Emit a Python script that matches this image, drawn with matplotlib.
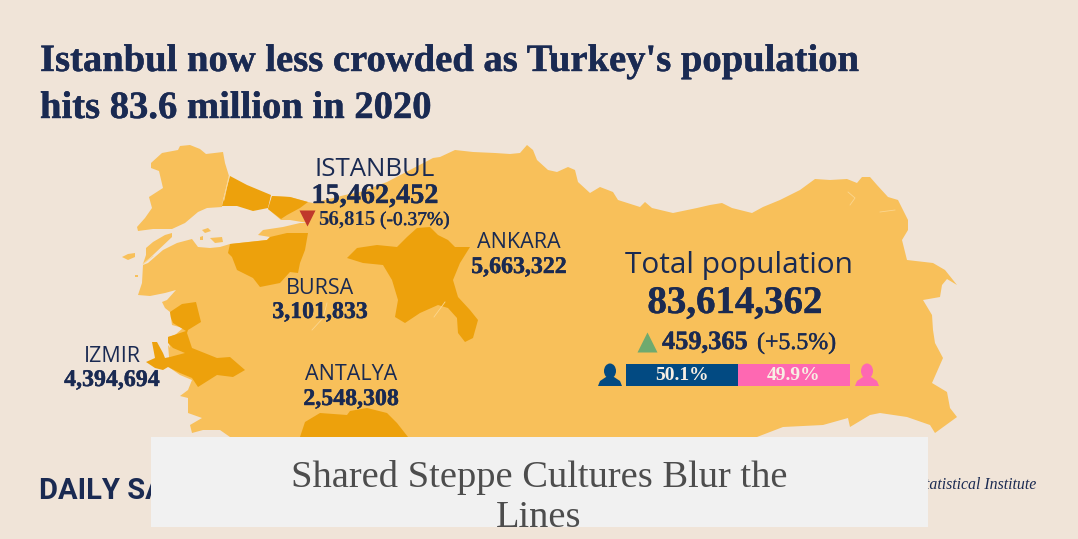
import matplotlib
matplotlib.use("Agg")
import matplotlib.pyplot as plt
import matplotlib.patheffects as pe
from matplotlib.patches import Polygon, Ellipse, Rectangle

# colours
bg = "#f0e4d8"
land = "#f8c05a"
hot = "#eda10c"
navy = "#1a2a52"
serif = "Liberation Serif"
sans = "Open Sans"

# outlines (pixels)
anatolia = [(143,265),(148,263),(163,250),(177,243),(192,239),(198,247),(210,248),(220,247),(230,244),
    (267,240),(270,237),(258,235),(263,230),(283,227),(300,223),(308,223),(290,220),(281,220),(268,209),
    (272,196),(290,197),(308,202),(313,203),(345,195),(360,192),(387,182),(410,170),(433,158),(440,157),
    (455,150),(473,152),(495,153),(510,154),(520,153),(527,145),(533,150),(537,160),(548,170),(557,172),
    (568,167),(575,170),(578,182),(590,193),(600,187),(613,192),(618,200),(640,207),(645,202),(652,208),
    (673,213),(697,208),(710,205),(722,203),(732,208),(752,213),(763,207),(780,200),(800,190),(815,179),
    (830,180),(847,179),(857,183),(862,177),(870,177),(877,185),(888,197),(898,200),(908,220),(908,230),
    (902,240),(907,260),(933,263),(945,270),(957,285),(947,279),(942,285),(940,297),(923,300),(932,315),
    (933,330),(935,343),(943,358),(932,383),(947,392),(950,408),(957,417),(935,433),(930,425),(907,417),
    (880,413),(870,415),(850,427),(848,418),(823,425),(783,427),(757,437),(750,445),(232,445),(230,437),
    (220,430),(203,430),(192,433),(190,425),(202,418),(188,413),(188,398),(180,396),(188,390),(192,380),
    (180,375),(170,368),(168,345),(170,348),(168,337),(175,335),(183,328),(172,325),(170,312),(165,308),
    (162,302),(167,300),(176,290),(165,293),(150,296),(138,295),(142,283)]
thrace = [(151,163),(162,153),(178,150),(180,146),(190,145),(200,149),(206,154),(223,152),(225,163),
    (229,176),(223,200),(222,207),(207,208),(198,212),(185,223),(172,229),(153,229),(138,231),(137,227),
    (145,218),(152,208),(149,197),(163,188),(159,171),(151,168)]
gallipoli = [(172,233),(165,235),(153,242),(146,248),(146,255),(143,264),(153,255),(172,237)]
islands = [[(122,257),(128,254),(135,253),(135,257),(128,260)],
    [(202,230),(208,228),(211,231),(205,233)],
    [(210,238),(222,237),(223,242),(215,243)],
    [(200,237),(203,236),(203,240),(200,240)],
    [(135,275),(138,275),(138,277),(135,277)]]
istanbul_eu = [(230,176),(247,185),(271,195),(268,208),(253,211),(237,206),(222,206),(227,187)]
istanbul_as = [(272,196),(290,197),(308,202),(300,208),(287,215),(281,219),(268,209)]
bursa = [(230,244),(267,240),(270,237),(287,233),(308,233),(305,250),(300,263),(298,273),(290,272),
    (280,283),(260,287),(253,278),(237,270),(232,257),(228,253)]
ankara = [(347,258),(357,248),(377,245),(397,247),(407,237),(417,228),(430,227),(438,235),(448,240),
    (455,247),(470,247),(460,263),(453,280),(458,297),(470,310),(478,320),(473,338),(465,342),(458,333),
    (457,318),(448,308),(438,305),(420,313),(405,323),(395,317),(398,300),(392,280),(383,265),(363,263)]
izmir = [(170,312),(182,304),(196,302),(201,322),(188,330),(187,333),(192,348),(217,358),(230,357),
    (245,370),(233,377),(217,375),(198,387),(192,378),(180,373),(168,367),(163,370),(155,368),(146,362),
    (155,358),(152,342),(157,342),(163,353),(165,358),(170,357),(185,353),(173,348),(168,343),(168,337),
    (180,333),(186,331),(173,323),(171,318)]
antalya = [(300,445),(300,437),(305,422),(320,413),(347,415),(350,411),(367,408),(387,413),(397,423),(408,437),(408,445)]
borders = [[(312,330),(323,318),(327,303)],[(434,317),(445,302)],[(848,192),(855,198),(850,205)],
    [(880,212),(895,210)],[(143,264),(153,256)],[(229,176),(224,200)]]

# numbers on the chart
male_female = [50.1, 49.9]
bar_labels = ["50.1%", "49.9%"]
bar_colors = ["#024a82", "#fe68b2"]
cities = ["ISTANBUL", "ANKARA", "BURSA", "IZMIR", "ANTALYA"]
city_pop = ["15,462,452", "5,663,322", "3,101,833", "4,394,694", "2,548,308"]
city_x = [375, 519, 320, 112, 351]
name_y = [176, 248, 294, 362, 380]
pop_y = [203, 273, 318, 386, 405]

heavy = [pe.withStroke(linewidth=0.3, foreground=navy)]

fig = plt.figure(figsize=(10.78, 5.39), dpi=100, facecolor=bg)
ax = fig.add_axes([0, 0, 1, 1])
ax.set_xlim(0, 1078)
ax.set_ylim(539, 0)
ax.axis("off")

for shape in [anatolia, thrace, gallipoli] + islands:
    ax.add_patch(Polygon(shape, closed=True, fc=land, ec="none", zorder=1))
for shape in [istanbul_eu, istanbul_as, bursa, ankara, izmir, antalya]:
    ax.add_patch(Polygon(shape, closed=True, fc=hot, ec="none", zorder=2))
for b in borders:
    ax.plot(*zip(*b), color="#fbd68f", lw=0.6, zorder=2)

# title
ax.text(40, 71, "Istanbul now less crowded as Turkey's population", family=serif, weight="bold",
        fontsize=27.8, color=navy, va="baseline", path_effects=heavy)
ax.text(40, 118, "hits 83.6 million in 2020", family=serif, weight="bold",
        fontsize=27.8, color=navy, va="baseline", path_effects=heavy)

for name, pop, x, y1, y2 in zip(cities, city_pop, city_x, name_y, pop_y):
    ax.text(x, y1, name, family=sans, fontsize=15.5 if name != "ISTANBUL" else 18.5, color=navy,
            ha="center", va="baseline", zorder=4)
    ax.text(x, y2, pop, family=serif, weight="bold", fontsize=17.2 if name != "ISTANBUL" else 20.3,
            color=navy, ha="center", va="baseline", zorder=4, path_effects=heavy)

# istanbul change
ax.plot([307], [218], marker="v", ms=11, color="#c0392b", mec="none", zorder=4)
ax.text(318, 225, "56,815", family=serif, weight="bold", fontsize=15, color=navy, zorder=4)
ax.text(380, 225, "(-0.37%)", family=serif, fontsize=14, color=navy, zorder=4, path_effects=heavy)

# total block
ax.text(739, 273, "Total population", family=sans, fontsize=21.5, color=navy, ha="center", zorder=4)
ax.text(735, 313, "83,614,362", family=serif, weight="bold", fontsize=28, color=navy, ha="center",
        zorder=4, path_effects=heavy)
ax.plot([647], [342], marker="^", ms=14, color="#6faa6f", mec="none", zorder=4)
ax.text(662, 349, "459,365", family=serif, weight="bold", fontsize=19, color=navy, zorder=4, path_effects=heavy)
ax.text(757, 349, "(+5.5%)", family=serif, fontsize=17.2, color=navy, zorder=4, path_effects=heavy)

# person icons
for cx, col in zip([610, 867], bar_colors):
    ax.add_patch(Ellipse((cx, 371), 12, 15, fc=col, ec="none", zorder=4))
    ax.add_patch(Polygon([(cx-12,386),(cx-10,381),(cx-4,377),(cx+4,377),(cx+10,381),(cx+12,386)],
                         closed=True, fc=col, ec="none", zorder=4))

# male / female bar
bar_ax = fig.add_axes([625.7/1078, 1-385.7/539, 224.3/1078, 21.7/539])
bar_ax.set_xlim(0, 100)
bar_ax.set_ylim(-0.5, 0.5)
bar_ax.axis("off")
left = 0
for val, lab, col in zip(male_female, bar_labels, bar_colors):
    bar_ax.barh(0, val, left=left, height=1, color=col)
    bar_ax.text(left + val/2, -0.02, lab, family=serif, weight="bold", fontsize=14, color="#f7efe4",
                ha="center", va="center")
    left += val

# footer
ax.text(39, 499, "DAILY SABAH", family=["Liberation Sans Narrow", "Roboto"], weight="bold", fontsize=21,
        color=navy, va="baseline", zorder=1)
ax.text(1036, 489, "Statistical Institute", family=serif, style="italic", fontsize=11.4, color=navy,
        ha="right", va="baseline", zorder=1)

# box over the picture
box = Rectangle((151, 437), 777, 90, fc="#f1f1f1", ec="none", zorder=5)
ax.add_patch(box)
t1 = ax.text(539, 487, "Shared Steppe Cultures Blur the", family=serif, fontsize=27.7, color="#4d4d4d",
             ha="center", va="baseline", zorder=6)
t2 = ax.text(539, 527, "Lines", family=serif, fontsize=27.7, color="#4d4d4d",
             ha="center", va="baseline", zorder=6)
t2.set_clip_path(box)

fig.savefig("out.png", dpi=100, facecolor=bg)
